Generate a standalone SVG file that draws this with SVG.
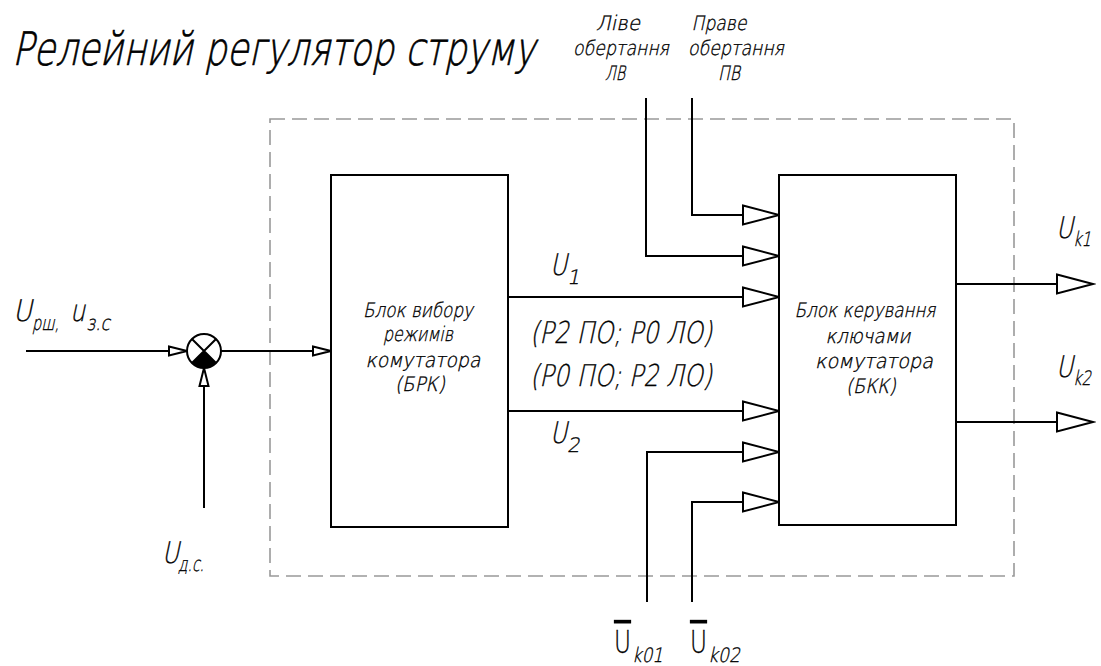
<svg xmlns="http://www.w3.org/2000/svg" width="1101" height="666" viewBox="0 0 1101 666">
<style>
text{font-family:"DejaVu Sans","Liberation Sans",sans-serif;font-weight:200;fill:#000;stroke:#000;stroke-width:0.35}
.ln{fill:none;stroke:#000;stroke-width:2}
.blk{fill:#fff;stroke:#000;stroke-width:2}
.t20{font-size:20px;text-anchor:middle}
.big{font-size:30px}
.sub{font-size:20px}
.up{font-size:32px;text-decoration:overline;text-decoration-thickness:1.5px}
</style>
<defs>
<marker id="ab" markerUnits="userSpaceOnUse" markerWidth="40" markerHeight="24" viewBox="0 0 40 24" refX="37" refY="12" orient="auto">
<path d="M1,2.5 L37,12 L1,21.5 Z" fill="#fff" stroke="#000" stroke-width="2"/>
</marker>
<marker id="as" markerUnits="userSpaceOnUse" markerWidth="22" markerHeight="12" viewBox="0 0 22 12" refX="19" refY="6" orient="auto">
<path d="M1,1.5 L19,6 L1,10.5 Z" fill="#fff" stroke="#000" stroke-width="2"/>
</marker>
</defs>
<rect width="1101" height="666" fill="#fff"/>

<text transform="translate(12,65) skewX(-12)" style="font-size:46px;stroke-width:0.7" textLength="523" lengthAdjust="spacingAndGlyphs">Релейний регулятор струму</text>

<rect id="boundary" x="270" y="119" width="744" height="457" fill="none" stroke="#999" stroke-width="1.6" stroke-dasharray="15 7"/>

<g id="connectors">
<path class="ln" d="M26,351 H187" marker-end="url(#as)"/>
<path class="ln" d="M204,508 V368" marker-end="url(#as)"/>
<path class="ln" d="M221,351 H331" marker-end="url(#as)"/>
<path class="ln" d="M508,297 H779" marker-end="url(#ab)"/>
<path class="ln" d="M508,411 H779" marker-end="url(#ab)"/>
<path class="ln" d="M646,98 V256 H779" marker-end="url(#ab)"/>
<path class="ln" d="M692,98 V215 H779" marker-end="url(#ab)"/>
<path class="ln" d="M647,602 V452 H779" marker-end="url(#ab)"/>
<path class="ln" d="M692,602 V502 H779" marker-end="url(#ab)"/>
<path class="ln" d="M956,284 H1093" marker-end="url(#ab)"/>
<path class="ln" d="M956,422 H1093" marker-end="url(#ab)"/>
</g>

<g id="sum">
<circle cx="204" cy="351" r="17" class="blk"/>
<path d="M204,351 L216.02,363.02 A17,17 0 0 1 191.98,363.02 Z" fill="#000"/>
<path class="ln" d="M191.98,338.98 L216.02,363.02 M216.02,338.98 L191.98,363.02"/>
</g>

<g id="brk">
<rect x="331" y="175" width="177" height="352" class="blk"/>
<text class="t20" transform="translate(418,317) skewX(-12)" textLength="110" lengthAdjust="spacingAndGlyphs">Блок вибору</text>
<text class="t20" transform="translate(418,341) skewX(-12)" textLength="70" lengthAdjust="spacingAndGlyphs">режимів</text>
<text class="t20" transform="translate(423,367) skewX(-12)" textLength="115" lengthAdjust="spacingAndGlyphs">комутатора</text>
<text class="t20" transform="translate(420,391) skewX(-12)" textLength="50" lengthAdjust="spacingAndGlyphs">(БРК)</text>
</g>

<g id="bkk">
<rect x="779" y="175" width="177" height="350" class="blk"/>
<text class="t20" transform="translate(865,317) skewX(-12)" textLength="141" lengthAdjust="spacingAndGlyphs">Блок керування</text>
<text class="t20" transform="translate(868,343) skewX(-12)" textLength="85" lengthAdjust="spacingAndGlyphs">ключами</text>
<text class="t20" transform="translate(874,368) skewX(-12)" textLength="118" lengthAdjust="spacingAndGlyphs">комутатора</text>
<text class="t20" transform="translate(871,393) skewX(-12)" textLength="50" lengthAdjust="spacingAndGlyphs">(БКК)</text>
</g>

<g id="labels">
<text class="t20" transform="translate(618,30) skewX(-12)" textLength="44" lengthAdjust="spacingAndGlyphs">Ліве</text>
<text class="t20" transform="translate(621,55) skewX(-12)" textLength="96" lengthAdjust="spacingAndGlyphs">обертання</text>
<text class="t20" transform="translate(615,80) skewX(-12)" textLength="20" lengthAdjust="spacingAndGlyphs">ЛВ</text>
<text class="t20" transform="translate(719,30) skewX(-12)" textLength="55" lengthAdjust="spacingAndGlyphs">Праве</text>
<text class="t20" transform="translate(736,55) skewX(-12)" textLength="96" lengthAdjust="spacingAndGlyphs">обертання</text>
<text class="t20" transform="translate(729,80) skewX(-12)" textLength="22" lengthAdjust="spacingAndGlyphs">ПВ</text>

<text class="big" transform="translate(13,321) skewX(-12)" textLength="19" lengthAdjust="spacingAndGlyphs">U</text>
<text class="sub" transform="translate(32,330) skewX(-12)" textLength="27" lengthAdjust="spacingAndGlyphs">рш,</text>
<text class="big" transform="translate(70,321) skewX(-12)" textLength="15" lengthAdjust="spacingAndGlyphs">u</text>
<text class="sub" transform="translate(86,330) skewX(-12)" textLength="24" lengthAdjust="spacingAndGlyphs">з.с</text>

<text class="big" transform="translate(162,563) skewX(-12)" textLength="17" lengthAdjust="spacingAndGlyphs">U</text>
<text class="sub" transform="translate(178,571) skewX(-12)" textLength="26" lengthAdjust="spacingAndGlyphs">д.с.</text>

<text class="big" transform="translate(550,275) skewX(-12)" textLength="17" lengthAdjust="spacingAndGlyphs">U</text>
<text class="sub" transform="translate(567,284) skewX(-12)">1</text>
<text class="big" transform="translate(550,443) skewX(-12)" textLength="17" lengthAdjust="spacingAndGlyphs">U</text>
<text class="sub" transform="translate(567,452) skewX(-12)">2</text>

<text class="big" transform="translate(530,343) skewX(-12)" textLength="182" lengthAdjust="spacingAndGlyphs">(Р2 ПО; Р0 ЛО)</text>
<text class="big" transform="translate(530,386) skewX(-12)" textLength="182" lengthAdjust="spacingAndGlyphs">(Р0 ПО; Р2 ЛО)</text>

<text class="big" transform="translate(1056,238) skewX(-12)" textLength="17" lengthAdjust="spacingAndGlyphs">U</text>
<text class="sub" transform="translate(1073,246) skewX(-12)" textLength="18" lengthAdjust="spacingAndGlyphs">k1</text>
<text class="big" transform="translate(1056,377) skewX(-12)" textLength="17" lengthAdjust="spacingAndGlyphs">U</text>
<text class="sub" transform="translate(1073,385) skewX(-12)" textLength="18" lengthAdjust="spacingAndGlyphs">k2</text>

<text class="up" x="614" y="653" textLength="17" lengthAdjust="spacingAndGlyphs">U</text>
<text class="sub" transform="translate(632,662) skewX(-12)" textLength="31" lengthAdjust="spacingAndGlyphs">k01</text>
<text class="up" x="690" y="653" textLength="17" lengthAdjust="spacingAndGlyphs">U</text>
<text class="sub" transform="translate(708,662) skewX(-12)" textLength="32" lengthAdjust="spacingAndGlyphs">k02</text>
</g>
</svg>
